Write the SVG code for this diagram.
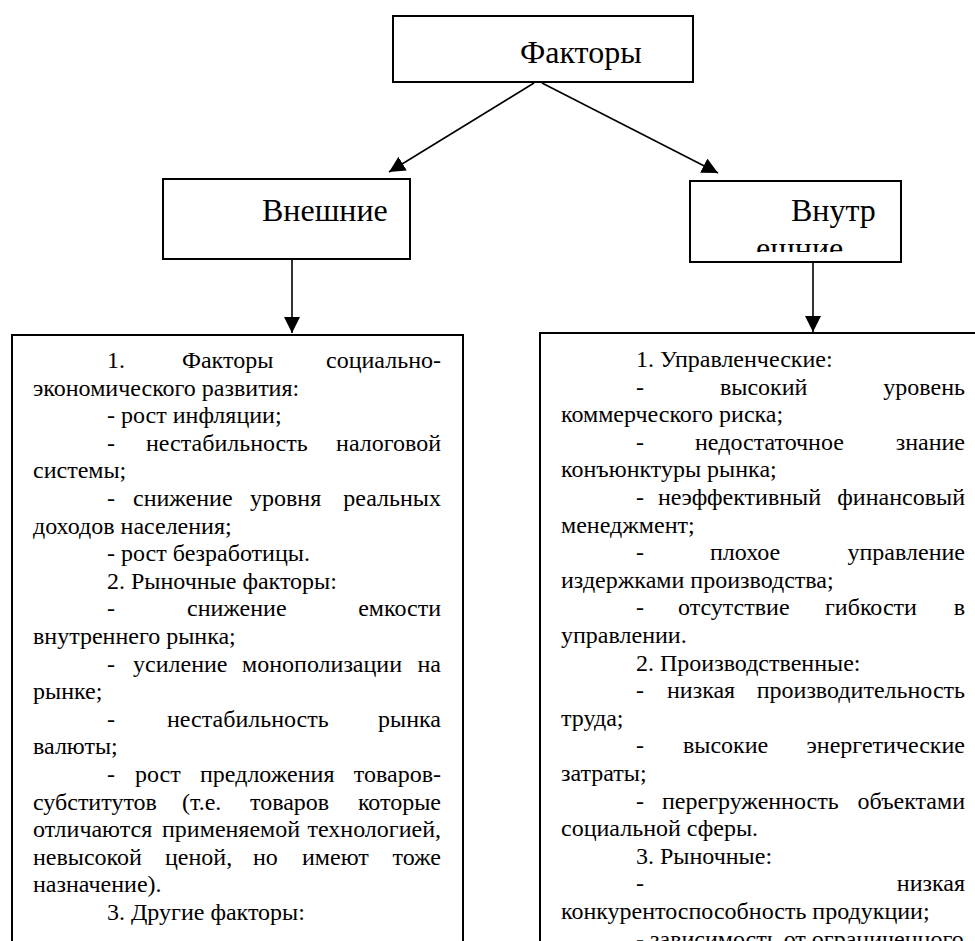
<svg xmlns="http://www.w3.org/2000/svg" width="975" height="941" viewBox="0 0 975 941">
<style>
.box{fill:#fff;stroke:#000;stroke-width:2}
text{font-family:'Liberation Serif','DejaVu Serif','Noto Serif',serif;fill:#000}
.t{font-size:24px}
.h{font-size:32px}
.e{text-anchor:end}
.c{stroke:#000;stroke-width:1.6;fill:none}
</style>
<defs>
<marker id="arr" markerUnits="userSpaceOnUse" markerWidth="16" markerHeight="16" refX="16" refY="8" orient="auto">
<path d="M0,0 L16,8 L0,16 z" fill="#000"/>
</marker>
<clipPath id="clipIn"><rect x="691" y="182" width="209" height="70"/></clipPath>
</defs>
<rect width="975" height="941" fill="#fff"/>

<g id="node-factors">
<rect class="box" x="393" y="16" width="300" height="66"/>
<text class="h" x="520" y="63">Факторы</text>
</g>

<g id="node-external">
<rect class="box" x="163" y="179" width="247" height="80"/>
<text class="h" x="262" y="221">Внешние</text>
</g>

<g id="node-internal">
<rect class="box" x="690" y="181" width="211" height="81"/>
<g clip-path="url(#clipIn)">
<text class="h" x="791" y="221">Внутр</text>
<text class="h" x="756" y="259">ешние</text>
</g>
</g>

<g id="node-external-list">
<rect class="box" x="12" y="335" width="451" height="640"/>
<text class="t" y="368"><tspan x="107">1.</tspan><tspan x="182">Факторы</tspan><tspan class="e" x="441">социально-</tspan></text>
<text class="t" x="33" y="395.6">экономического развития:</text>
<text class="t" x="107" y="423.2">- рост инфляции;</text>
<text class="t" y="450.8"><tspan x="107">-</tspan><tspan x="146">нестабильность</tspan><tspan class="e" x="441">налоговой</tspan></text>
<text class="t" x="33" y="478.4">системы;</text>
<text class="t" y="506"><tspan x="107">-</tspan><tspan x="133">снижение</tspan><tspan x="250">уровня</tspan><tspan class="e" x="441">реальных</tspan></text>
<text class="t" x="33" y="533.6">доходов населения;</text>
<text class="t" x="107" y="561.2">- рост безработицы.</text>
<text class="t" x="107" y="588.8">2. Рыночные факторы:</text>
<text class="t" y="616.4"><tspan x="107">-</tspan><tspan x="187">снижение</tspan><tspan class="e" x="441">емкости</tspan></text>
<text class="t" x="33" y="644">внутреннего рынка;</text>
<text class="t" y="671.6"><tspan x="107">-</tspan><tspan x="133">усиление</tspan><tspan x="242">монополизации</tspan><tspan class="e" x="441">на</tspan></text>
<text class="t" x="33" y="699.2">рынке;</text>
<text class="t" y="726.8"><tspan x="107">-</tspan><tspan x="167">нестабильность</tspan><tspan class="e" x="441">рынка</tspan></text>
<text class="t" x="33" y="754.4">валюты;</text>
<text class="t" y="782"><tspan x="107">-</tspan><tspan x="135">рост</tspan><tspan x="200">предложения</tspan><tspan class="e" x="441">товаров-</tspan></text>
<text class="t" y="809.6"><tspan x="33">субститутов</tspan><tspan x="182">(т.е.</tspan><tspan x="250">товаров</tspan><tspan class="e" x="441">которые</tspan></text>
<text class="t" y="837.2"><tspan x="33">отличаются</tspan><tspan x="162">применяемой</tspan><tspan class="e" x="441">технологией,</tspan></text>
<text class="t" y="864.8"><tspan x="33">невысокой</tspan><tspan x="165">ценой,</tspan><tspan x="253">но</tspan><tspan x="302">имеют</tspan><tspan class="e" x="441">тоже</tspan></text>
<text class="t" x="33" y="892.4">назначение).</text>
<text class="t" x="107" y="920">3. Другие факторы:</text>
</g>

<g id="node-internal-list">
<rect class="box" x="540" y="333" width="450" height="640"/>
<text class="t" x="636" y="367">1. Управленческие:</text>
<text class="t" y="394.6"><tspan x="636">-</tspan><tspan x="720">высокий</tspan><tspan class="e" x="965">уровень</tspan></text>
<text class="t" x="561" y="422.2">коммерческого риска;</text>
<text class="t" y="449.8"><tspan x="636">-</tspan><tspan x="695">недостаточное</tspan><tspan class="e" x="965">знание</tspan></text>
<text class="t" x="561" y="477.4">конъюнктуры рынка;</text>
<text class="t" y="505"><tspan x="636">-</tspan><tspan x="658">неэффективный</tspan><tspan class="e" x="965">финансовый</tspan></text>
<text class="t" x="561" y="532.6">менеджмент;</text>
<text class="t" y="560.2"><tspan x="636">-</tspan><tspan x="710">плохое</tspan><tspan class="e" x="965">управление</tspan></text>
<text class="t" x="561" y="587.8">издержками производства;</text>
<text class="t" y="615.4"><tspan x="636">-</tspan><tspan x="678">отсутствие</tspan><tspan x="825">гибкости</tspan><tspan class="e" x="965">в</tspan></text>
<text class="t" x="561" y="643">управлении.</text>
<text class="t" x="636" y="670.6">2. Производственные:</text>
<text class="t" y="698.2"><tspan x="636">-</tspan><tspan x="667">низкая</tspan><tspan class="e" x="965">производительность</tspan></text>
<text class="t" x="561" y="725.8">труда;</text>
<text class="t" y="753.4"><tspan x="636">-</tspan><tspan x="683">высокие</tspan><tspan class="e" x="965">энергетические</tspan></text>
<text class="t" x="561" y="781">затраты;</text>
<text class="t" y="808.6"><tspan x="636">-</tspan><tspan x="662">перегруженность</tspan><tspan class="e" x="965">объектами</tspan></text>
<text class="t" x="561" y="836.2">социальной сферы.</text>
<text class="t" x="636" y="863.8">3. Рыночные:</text>
<text class="t" y="891.4"><tspan x="636">-</tspan><tspan class="e" x="965">низкая</tspan></text>
<text class="t" x="561" y="919">конкурентоспособность продукции;</text>
<text class="t" x="636" y="946.6">- зависимость от ограниченного</text>
</g>

<g id="connectors">
<line class="c" x1="534" y1="83" x2="389" y2="172" marker-end="url(#arr)"/>
<line class="c" x1="542" y1="83" x2="718" y2="173" marker-end="url(#arr)"/>
<line class="c" x1="292" y1="259" x2="292" y2="333" marker-end="url(#arr)"/>
<line class="c" x1="813" y1="262" x2="813" y2="332" marker-end="url(#arr)"/>
</g>
</svg>
